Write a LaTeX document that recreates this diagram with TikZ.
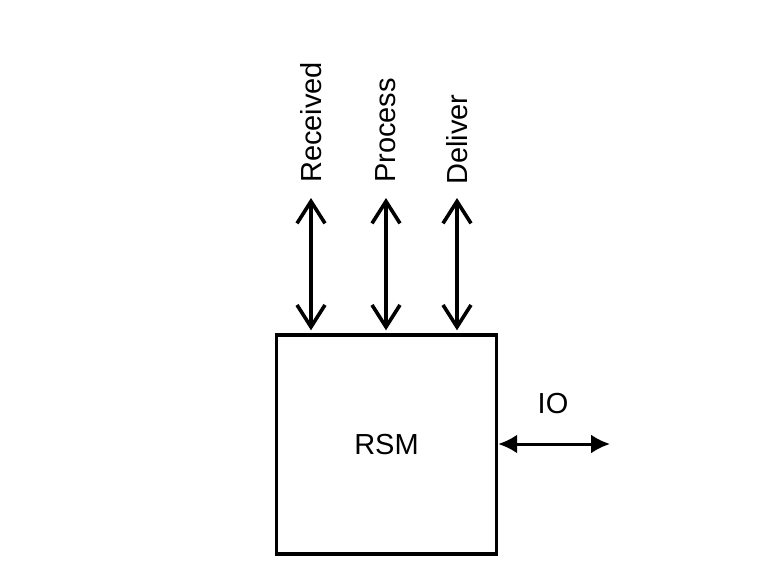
\documentclass[tikz,border=0pt]{standalone}
\usepackage{fontspec}
\setmainfont{Liberation Sans}
\usetikzlibrary{arrows.meta}
\usetikzlibrary{positioning}

\begin{document}
\begin{tikzpicture}[
    x=1pt, y=-1pt,
    box/.style={draw, line width=3.4pt, minimum width=220pt, minimum height=219pt,
      inner sep=0pt, font=\fontsize{29}{35}\selectfont},
    lbl/.style={rotate=90, anchor=west, inner sep=0pt, font=\fontsize{29}{35}\selectfont},
    bus/.style={line width=3.6pt, {Straight Barb[length=22pt,width=28pt,line width=3.6pt]}-{Straight Barb[length=22pt,width=28pt,line width=3.6pt]}},
    iolink/.style={line width=3pt, {Latex[length=19pt,width=19pt]}-{Latex[length=19pt,width=19pt]}}
  ]

  \useasboundingbox (0,0) rectangle (769,574);

  \node [box] (rsm) at (386.5,444.5) {RSM};

  % labels above the bus arrows
  \node [lbl] (received) at (311,183) {Received};
  \node [lbl] (process) at (386,183) {Process};
  \node [lbl] (deliver) at (457,185) {Deliver};

  \draw [bus, shorten >=3pt] ([yshift=-15pt]received.west) -- (received.west |- rsm.north);
  \draw [bus, shorten >=3pt] ([yshift=-15pt]process.west) -- (process.west |- rsm.north);
  \draw [bus, shorten >=3pt] ([yshift=-13pt]deliver.west) -- (deliver.west |- rsm.north);

  % io side
  \coordinate (ioend) at (610,444);
  \draw [iolink] (rsm.east |- ioend) -- (ioend);
  \node [font=\fontsize{29}{35}\selectfont] (io) at (553,404) {IO};

\end{tikzpicture}
\end{document}
